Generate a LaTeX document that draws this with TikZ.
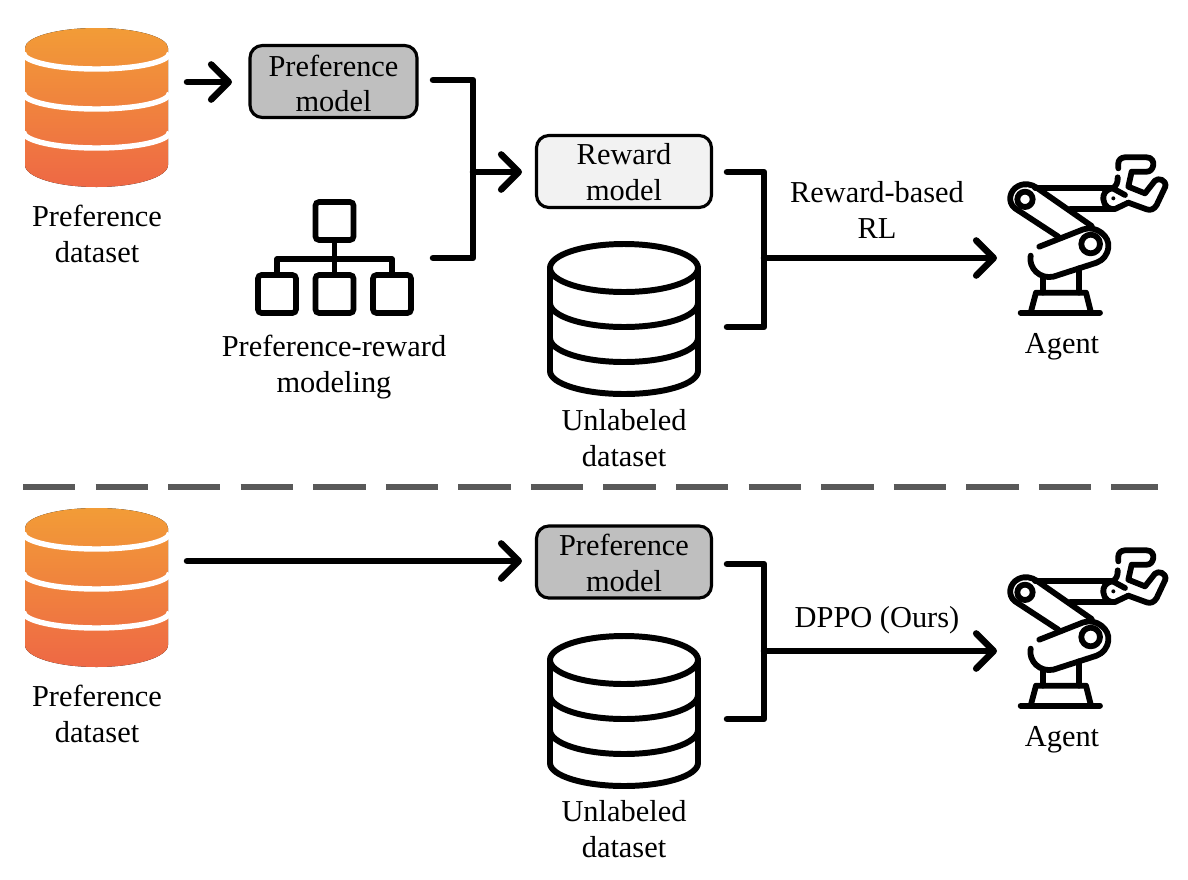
\documentclass[tikz,border=0pt]{standalone}
\usepackage{fontspec}
\setmainfont{Liberation Serif}
\usetikzlibrary{arrows.meta, positioning}
\definecolor{prefgray}{HTML}{BFBFBF}
\definecolor{rewardgray}{HTML}{F2F2F2}
\definecolor{dashgray}{HTML}{595959}
\definecolor{dbtop}{HTML}{F29C37}
\definecolor{dbbottom}{HTML}{EE6845}
\tikzset{
	x=0.02cm, y=-0.02cm,
	block/.style={draw, line width=1.8pt, rounded corners=7pt, minimum width=3.5cm, minimum height=1.44cm, inner sep=0pt, align=center},
	caption/.style={align=center, font=\fontsize{17.3}{20.4}\selectfont},
	flow/.style={line width=3.7pt, line cap=round, line join=round},
	flowtip/.style={flow, -{Straight Barb[length=10pt, width=20pt, round]}},
	outline/.style={line width=3.4pt, line cap=round, line join=round},
	pics/coloreddb/.style={code={
		\fill[top color=dbtop, bottom color=dbbottom] (-71.5,20) arc[start angle=180, end angle=360, x radius=71.5, y radius=20]
			-- (71.5,137) arc[start angle=0, end angle=180, x radius=71.5, y radius=22] -- cycle;
		\foreach \y in {25,65,104}
			\draw[white, line width=3.1pt] (-73,\y) arc[start angle=180, end angle=0, x radius=73, y radius=16];
	}},
	pics/plaindb/.style={code={
		\draw[outline] (-74,26) arc[start angle=180, end angle=-180, x radius=74, y radius=24];
		\draw[outline] (-74,26) -- (-74,129) arc[start angle=180, end angle=0, x radius=74, y radius=23] -- (74,26);
		\draw[outline] (-74,61) arc[start angle=180, end angle=0, x radius=74, y radius=24];
		\draw[outline] (-74,96) arc[start angle=180, end angle=0, x radius=74, y radius=24];
	}},
	pics/hierarchy/.style={code={
		\draw[line width=3.2pt, rounded corners=2pt] (-19,-19) rectangle (19,19);
		\draw[line width=3.2pt, rounded corners=2pt] (-76.5,54) rectangle (-38.5,92);
		\draw[line width=3.2pt, rounded corners=2pt] (-19,54) rectangle (19,92);
		\draw[line width=3.2pt, rounded corners=2pt] (38.5,54) rectangle (76.5,92);
		\draw[line width=3pt, line join=round] (-57.5,54) -- (-57.5,38) -- (57.5,38) -- (57.5,54);
		\draw[line width=3pt] (0,19) -- (0,54);
	}},
	pics/robotarm/.style={code={
		\begin{scope}[x=0.00667cm, y=-0.00667cm, line width=3.3pt, line cap=round, line join=round]
			\draw (92,518) -- (330,518);
			\draw (122,518) -- (138,458) -- (288,458) -- (303,518);
			\draw (158,458) -- (158,415);
			\draw (267,458) -- (267,385);
			\draw (148,320) -- (280,268) .. controls (320,255) and (360,290) .. (355,322) .. controls (352,345) and (340,360) .. (320,368) -- (190,410) .. controls (150,418) and (115,385) .. (122,347);
			\draw (302,312) circle[radius=28];
			\draw (205,290) -- (75,205) .. controls (50,185) and (60,150) .. (85,138) .. controls (105,128) and (125,133) .. (140,143) -- (305,258);
			\draw (105,178) circle[radius=23];
			\draw (135,143) -- (368,143);
			\draw (240,208) -- (370,208);
			\draw (368,145) .. controls (345,148) and (338,165) .. (340,178) .. controls (342,198) and (358,210) .. (375,207) -- (415,188);
			\draw (368,145) .. controls (380,138) and (384,125) .. (383,112);
			\draw (372,147) -- (405,165);
			\fill (370,175) circle[radius=6];
			\draw (385,85) -- (385,70) .. controls (385,60) and (394,52) .. (405,52) -- (470,52) .. controls (485,52) and (492,65) .. (490,75) .. controls (488,88) and (480,95) .. (470,95) -- (425,95) -- (415,140) -- (465,160) -- (495,122) .. controls (505,112) and (530,120) .. (526,140) -- (500,195) .. controls (492,208) and (482,212) .. (470,208) -- (415,188);
		\end{scope}
	}}
}

\begin{document}
\begin{tikzpicture}
	\useasboundingbox (0,0) rectangle (1188,880);

	% top row
	\pic (prefdb) at (96.5,28) {coloreddb};
	\node[caption] (preflabel) at (97,234) {Preference\\dataset};
	\node[block, fill=prefgray, minimum width=3.34cm] (prefmodel) at (333.5,81.5) {};
	\node[caption] at (333.5,83.5) {Preference\\model};
	\pic (tree) at (334.5,221) {hierarchy};
	\node[caption] (treelabel) at (334,367) {Preference-reward\\modeling};
	\node[block, fill=rewardgray] (reward) at (624,171.5) {};
	\node[caption] at (624,172.5) {Reward\\model};
	\pic (unlabeled) at (624,242) {plaindb};
	\node[caption] (unlabeledlabel) at (624,438) {Unlabeled\\dataset};
	\node[caption] (rllabel) at (877,210) {Reward-based\\RL};
	\pic (robot) at (990,140) {robotarm};
	\node[caption] (agent) at (1062,347) {Agent};

	\coordinate (prefout) at (187,82);
	\coordinate (prefin) at (232,82);
	\coordinate (modelout) at (433,80);
	\coordinate (treeout) at (433,258);
	\coordinate (join) at (473,172);
	\coordinate (rewardin) at (522,172);
	\coordinate (rewardout) at (727,172);
	\coordinate (dataout) at (727,327);
	\coordinate (rljoin) at (764,258);
	\coordinate (agentin) at (997,258);

	\draw[flowtip] (prefout) -- (prefin);
	\draw[flow] (modelout) -| (join) |- (treeout);
	\draw[flowtip] (join) -- (rewardin);
	\draw[flow] (rewardout) -| (rljoin) |- (dataout);
	\draw[flowtip] (rljoin) -- (agentin);

	% separator
	\coordinate (sepleft) at (23,487);
	\coordinate (sepright) at (1158,487);
	\draw[dashgray, line width=3.8pt, dash pattern=on 29.8pt off 11.5pt] (sepleft) -- (sepright);

	% bottom row
	\pic (prefdbb) at (96.5,508) {coloreddb};
	\node[caption] (preflabelb) at (97,714) {Preference\\dataset};
	\node[block, fill=prefgray] (prefmodelb) at (624,562) {};
	\node[caption] at (624,563) {Preference\\model};
	\pic (unlabeledb) at (624,634) {plaindb};
	\node[caption] (unlabeledlabelb) at (624,829) {Unlabeled\\dataset};
	\node[caption] (dppolabel) at (877,620) {DPPO (Ours)};
	\pic (robotb) at (990,533) {robotarm};
	\node[caption] (agentb) at (1062,740) {Agent};

	\coordinate (prefoutb) at (187,561);
	\coordinate (prefinb) at (522,561);
	\coordinate (modeloutb) at (727,564);
	\coordinate (dataoutb) at (727,719);
	\coordinate (dppojoin) at (764,651);
	\coordinate (agentinb) at (997,651);

	\draw[flowtip] (prefoutb) -- (prefinb);
	\draw[flow] (modeloutb) -| (dppojoin) |- (dataoutb);
	\draw[flowtip] (dppojoin) -- (agentinb);
\end{tikzpicture}
\end{document}
